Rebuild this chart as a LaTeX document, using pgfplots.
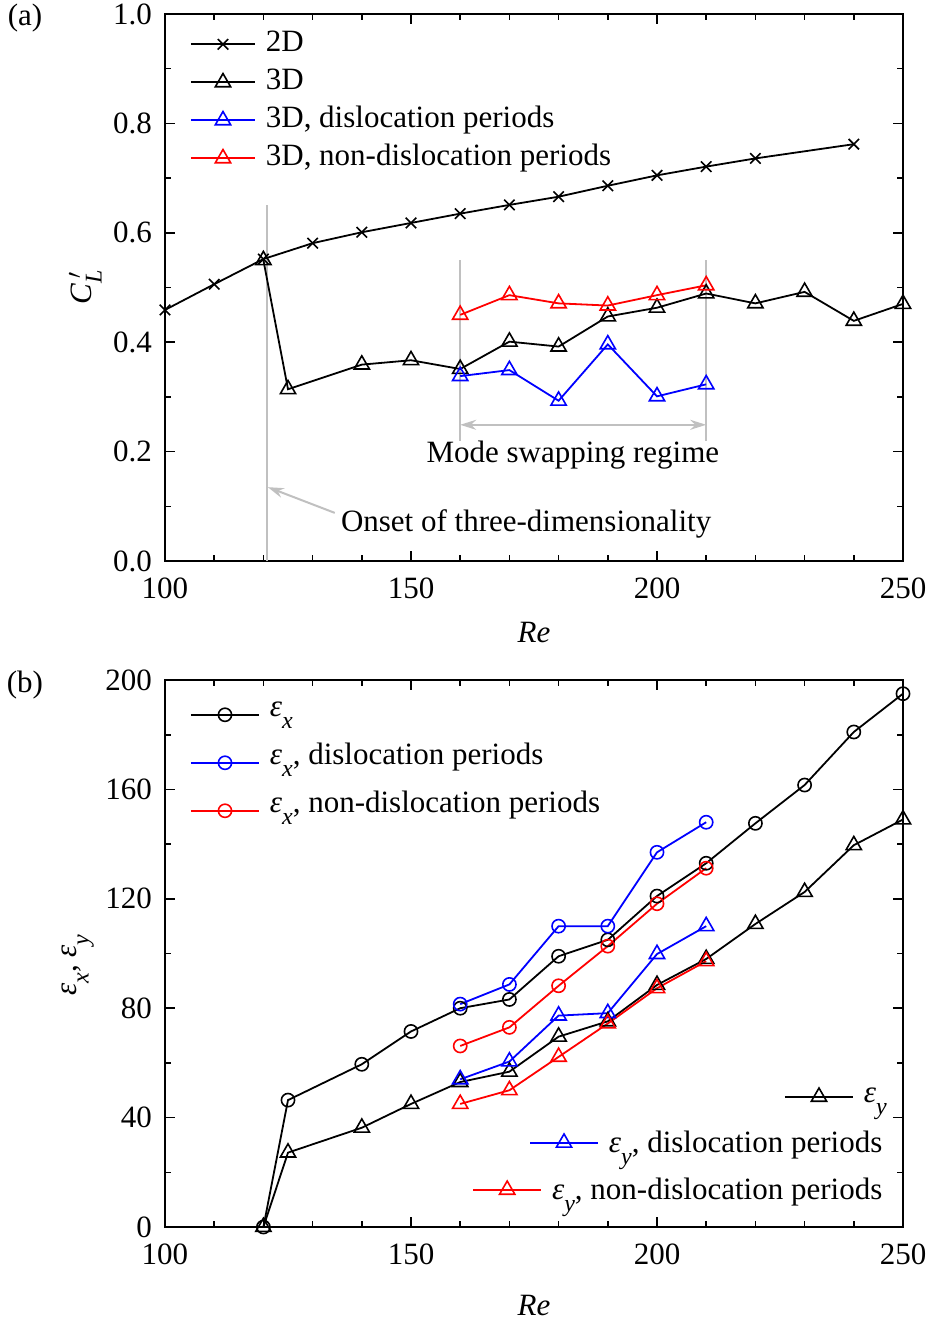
\documentclass[border=0pt]{standalone}
\usepackage{fontspec}
\setmainfont{Liberation Serif}
\usepackage{pgfplots}
\pgfplotsset{compat=1.18}
\usetikzlibrary{arrows.meta}

\definecolor{guide}{RGB}{192,192,192}
\newcommand\mainfs{\fontsize{15.5}{18}\selectfont}
\newcommand\eps[1]{\textit{ε}\raisebox{-6pt}{\fontsize{12}{12}\selectfont\textit{#1}}}

\pgfplotsset{
  panel/.style={
    width=369pt, height=273.5pt, scale only axis,
    xmin=100, xmax=250, xtick={100,150,200,250}, minor x tick num=4,
    axis line style={line width=1.1pt},
    every tick/.style={black, line width=0.8pt},
    major tick length=5pt, minor tick length=3pt,
    tick label style={font=\mainfs},
    xticklabel style={yshift=-5pt},
    yticklabel style={xshift=-3pt},
    /pgf/number format/assume math mode=true,
    label style={font=\mainfs},
    clip=false,
    every axis plot/.append style={line width=0.9pt, mark options={solid, line width=0.8pt, fill=none}},
    legend style={draw=none, fill=none, font=\mainfs, inner sep=0pt, outer sep=0pt,
      column sep=5pt, nodes={inner sep=0pt}},
    legend cell align=left,
  },
  hiddenpanel/.style={
    width=369pt, height=273.5pt, scale only axis, hide axis,
    xmin=0, xmax=1, ymin=0, ymax=1,
    every axis plot/.append style={line width=0.9pt, mark options={solid, line width=0.8pt, fill=none}},
    legend style={draw=none, fill=none, font=\mainfs, inner sep=0pt, outer sep=0pt,
      column sep=5pt, nodes={inner sep=0pt}, anchor=east},
    legend image code/.code={\draw[mark repeat=2, mark phase=2, #1]
      plot coordinates {(0pt,0pt) (17pt,0pt) (34pt,0pt)};},
  },
}

\begin{document}
\begin{tikzpicture}
\useasboundingbox (0,0) rectangle (464pt,-661pt);

\node[font=\mainfs] at (12.5pt,-9pt) {(a)};
\node[font=\mainfs] at (12.5pt,-342.5pt) {(b)};

% ---------------- (a) fluctuating lift coefficient ----------------
\begin{axis}[panel,
  at={(82.5pt,-280.5pt)}, anchor=south west,
  ymin=0, ymax=1, ytick={0,0.2,0.4,0.6,0.8,1.0}, minor y tick num=1,
  yticklabel style={/pgf/number format/.cd, fixed, fixed zerofill, precision=1},
  xlabel={\textit{Re}},
  xlabel style={at={(axis description cs:0.5,-0.13)}, anchor=center},
  ylabel={\textit{C}\rlap{\,$'$}\raisebox{-0.7ex}{\fontsize{12}{12}\selectfont\textit{L}}},
  ylabel style={at={(axis description cs:-0.108,0.5)}, anchor=center},
  legend style={at={(axis description cs:0.034,0.972)}, anchor=north west,
    nodes={text height=11pt, text depth=4pt}, row sep=4pt},
  legend image code/.code={\draw[mark repeat=2, mark phase=2, #1]
    plot coordinates {(0pt,0pt) (16pt,0pt) (32pt,0pt)};},
]
% guide lines and annotations
\draw[guide, line width=1pt] (axis cs:120.7,0) -- (axis cs:120.7,0.65);
\draw[guide, line width=1pt] (axis cs:160,0.22) -- (axis cs:160,0.55);
\draw[guide, line width=1pt] (axis cs:210,0.22) -- (axis cs:210,0.55);
\draw[guide, line width=1pt, {Stealth[length=8pt,width=5pt]}-{Stealth[length=8pt,width=5pt]}]
  (axis cs:160,0.249) -- (axis cs:210,0.249);
\draw[guide, line width=1pt, -{Stealth[length=8pt,width=5pt]}]
  (axis cs:134.5,0.088) -- (axis cs:120.9,0.135);
\node[font=\mainfs] at (axis cs:182.9,0.194) {Mode swapping regime};
\node[font=\mainfs] at (axis cs:173.4,0.068) {Onset of three-dimensionality};

\addplot[black, mark=x, mark size=3.7pt] coordinates {
  (100,0.459) (110,0.506) (120,0.552) (130,0.581) (140,0.601) (150,0.618)
  (160,0.635) (170,0.651) (180,0.666) (190,0.686) (200,0.705) (210,0.721)
  (220,0.736) (240,0.762)};
\addlegendentry{2D}
\addplot[black, mark=triangle, mark size=4.4pt] coordinates {
  (120,0.550) (125,0.314) (140,0.359) (150,0.367) (160,0.351) (170,0.401)
  (180,0.392) (190,0.447) (200,0.463) (210,0.489) (220,0.471) (230,0.492)
  (240,0.439) (250,0.470)};
\addlegendentry{3D}
\addplot[blue, mark=triangle, mark size=4.4pt] coordinates {
  (160,0.338) (170,0.349) (180,0.293) (190,0.396) (200,0.301) (210,0.323)};
\addlegendentry{3D, dislocation periods}
\addplot[red, mark=triangle, mark size=4.4pt] coordinates {
  (160,0.450) (170,0.486) (180,0.471) (190,0.467) (200,0.486) (210,0.504)};
\addlegendentry{3D, non-dislocation periods}
\end{axis}

% ---------------- (b) strain measures ----------------
\begin{axis}[panel,
  at={(82.5pt,-613.5pt)}, anchor=south west,
  ymin=0, ymax=200, ytick={0,40,80,120,160,200}, minor y tick num=1,
  xlabel={\textit{Re}},
  xlabel style={at={(axis description cs:0.5,-0.1426)}, anchor=center},
  ylabel={\eps{x}, \eps{y}},
  ylabel style={at={(axis description cs:-0.118,0.479)}, anchor=center},
  legend style={at={(axis description cs:0.034,0.973)}, anchor=north west,
    nodes={text height=11pt, text depth=9pt}, row sep=4pt},
  legend image code/.code={\draw[mark repeat=2, mark phase=2, #1]
    plot coordinates {(0pt,0pt) (17pt,0pt) (34pt,0pt)};},
]
\addplot[black, mark=o, mark size=3.3pt] coordinates {
  (120,0) (125,46.4) (140,59.5) (150,71.5) (160,80) (170,83.2) (180,99)
  (190,105) (200,121) (210,133) (220,147.6) (230,161.6) (240,181) (250,195)};
\addlegendentry{\eps{x}}
\addplot[blue, mark=o, mark size=3.3pt] coordinates {
  (160,81.5) (170,88.7) (180,110) (190,110) (200,137) (210,148)};
\addlegendentry{\eps{x}, dislocation periods}
\addplot[red, mark=o, mark size=3.3pt] coordinates {
  (160,66.2) (170,73) (180,88.2) (190,102.7) (200,118.2) (210,131.2)};
\addlegendentry{\eps{x}, non-dislocation periods}
\addplot[black, mark=triangle, mark size=4.4pt] coordinates {
  (120,0) (125,27.2) (140,36.3) (150,45) (160,53) (170,56.8) (180,69.6)
  (190,75.2) (200,88.5) (210,98) (220,110.8) (230,122.5) (240,139.6) (250,149)};
\addplot[blue, mark=triangle, mark size=4.4pt] coordinates {
  (160,54) (170,60.5) (180,77.3) (190,78.2) (200,99.8) (210,110)};
\addplot[red, mark=triangle, mark size=4.4pt] coordinates {
  (160,45) (170,50) (180,62.2) (190,74.4) (200,87.3) (210,97.2)};
\end{axis}

% right-aligned legend entries for the transverse strain series
\begin{axis}[hiddenpanel, at={(82.5pt,-613.5pt)}, anchor=south west,
  legend style={at={(axis description cs:0.978,0.238)}}]
\addlegendimage{black, mark=triangle, mark size=4.4pt}
\addlegendentry{\eps{y}}
\end{axis}
\begin{axis}[hiddenpanel, at={(82.5pt,-613.5pt)}, anchor=south west,
  legend style={at={(axis description cs:0.972,0.154)}}]
\addlegendimage{blue, mark=triangle, mark size=4.4pt}
\addlegendentry{\eps{y}, dislocation periods}
\end{axis}
\begin{axis}[hiddenpanel, at={(82.5pt,-613.5pt)}, anchor=south west,
  legend style={at={(axis description cs:0.972,0.068)}}]
\addlegendimage{red, mark=triangle, mark size=4.4pt}
\addlegendentry{\eps{y}, non-dislocation periods}
\end{axis}
\end{tikzpicture}
\end{document}
